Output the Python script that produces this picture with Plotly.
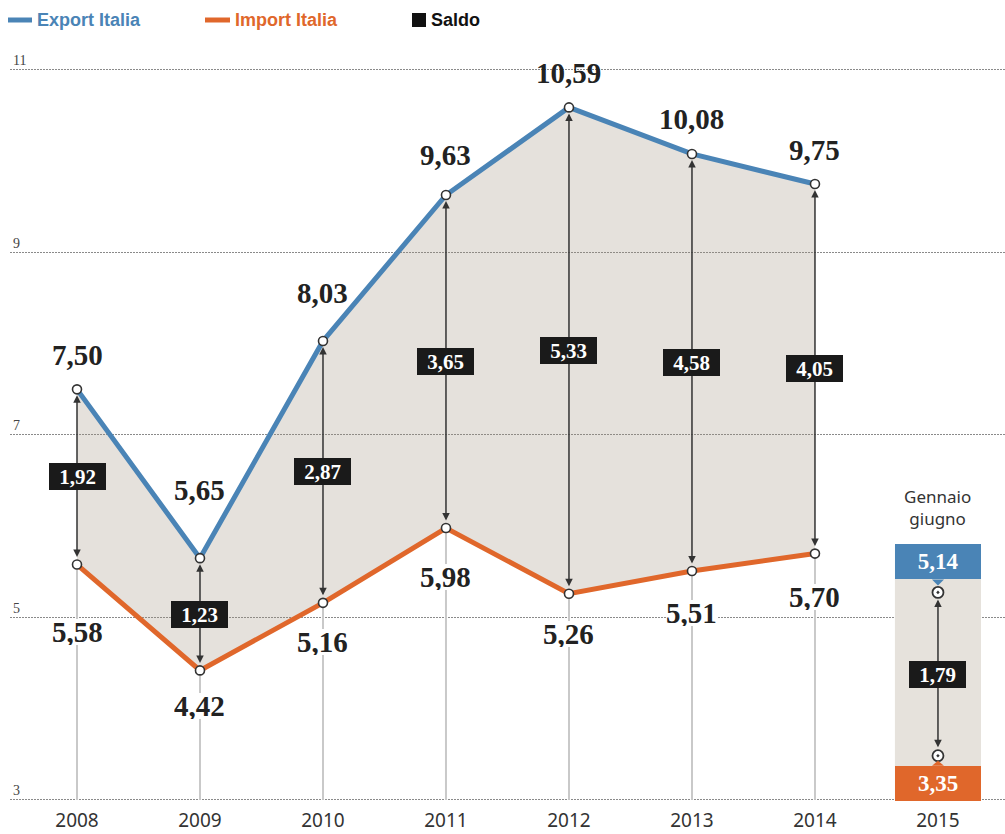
import plotly.graph_objects as go

# ---------------- data ----------------
years = [2008, 2009, 2010, 2011, 2012, 2013, 2014]
export_it = [7.50, 5.65, 8.03, 9.63, 10.59, 10.08, 9.75]
import_it = [5.58, 4.42, 5.16, 5.98, 5.26, 5.51, 5.70]
saldo = [1.92, 1.23, 2.87, 3.65, 5.33, 4.58, 4.05]

year_2015 = 2015
export_2015 = 5.14
import_2015 = 3.35
saldo_2015 = 1.79
inset_title = "Gennaio<br>giugno"

legend_names = ["Export Italia", "Import Italia", "Saldo"]

tick_years = [2008, 2009, 2010, 2011, 2012, 2013, 2014, 2015]
tick_labels = ["2008", "2009", "2010", "2011", "2012", "2013", "2014", "2015"]
y_ticks = [3, 5, 7, 9, 11]
y_tick_labels = ["3", "5", "7", "9", "11"]

# ---------------- style ----------------
W, H = 1005, 834
ML = 10
BLUE = "#4a84b6"
ORANGE = "#e0672b"
BLACK = "#111111"
FILL = "rgba(160,145,125,0.27)"
INSET_BG = "#e6e2dc"
SERIF = "Liberation Serif, Times New Roman, serif"
SANS = "Noto Sans, Open Sans, sans-serif"
LEG = "Liberation Sans, Arial, sans-serif"

export_shift = [34, 68, 48, 40, 34, 35, 34]      # label offsets (px)
import_shift = [-67, -36, -39, -49, -40, -42, -43]
INSET_SHIFT = 0.135                               # schematic offset of inset points


def fmt(v):
    return f"{v:.2f}".replace(".", ",")


def px(xp):
    return (xp - ML) / (W - ML)


def py(yp):
    return (H - yp) / H


fig = go.Figure()

# area between the two lines
fig.add_trace(go.Scatter(x=years, y=export_it, mode="lines", line=dict(width=0),
                         showlegend=False, hoverinfo="skip"))
fig.add_trace(go.Scatter(x=years, y=import_it, mode="lines", line=dict(width=0),
                         fill="tonexty", fillcolor=FILL, showlegend=False, hoverinfo="skip"))

fig.add_trace(go.Scatter(x=years, y=export_it, mode="lines", name=legend_names[0],
                         line=dict(color=BLUE, width=5), showlegend=False))
fig.add_trace(go.Scatter(x=years, y=import_it, mode="lines", name=legend_names[1],
                         line=dict(color=ORANGE, width=5), showlegend=False))

fig.add_trace(go.Scatter(x=years + years, y=export_it + import_it, mode="markers",
                         marker=dict(color="white", size=9, line=dict(color="#333333", width=1.6)),
                         showlegend=False, hoverinfo="skip"))

inset_exp_y = export_2015 + INSET_SHIFT
inset_imp_y = import_2015 + INSET_SHIFT

shapes = []
# light vertical guide lines below import points
for yr, imp in zip(years, import_it):
    shapes.append(dict(type="line", xref="x", yref="y", x0=yr, x1=yr, y0=y_ticks[0], y1=imp,
                       line=dict(color="#c9c9c9", width=2), layer="between"))

# inset background
shapes.append(dict(type="rect", xref="x", yref="y", x0=year_2015 - 0.35, x1=year_2015 + 0.35,
                   ysizemode="pixel", yanchor=y_ticks[0], y0=0, y1=255,
                   fillcolor=INSET_BG, line=dict(width=0), layer="between"))
# pointers of inset boxes
shapes.append(dict(type="path", xref="x", yref="y", xsizemode="pixel", ysizemode="pixel",
                   xanchor=year_2015, yanchor=inset_exp_y,
                   path="M -6 13 L 6 13 L 0 7 Z", fillcolor=BLUE, line=dict(width=0)))
shapes.append(dict(type="path", xref="x", yref="y", xsizemode="pixel", ysizemode="pixel",
                   xanchor=year_2015, yanchor=inset_imp_y,
                   path="M -6 -10 L 6 -10 L 0 -5 Z", fillcolor=ORANGE, line=dict(width=0)))

# legend symbols
shapes.append(dict(type="line", xref="paper", yref="paper", x0=px(8), x1=px(32), y0=py(20), y1=py(20),
                   line=dict(color=BLUE, width=5)))
shapes.append(dict(type="line", xref="paper", yref="paper", x0=px(205), x1=px(230), y0=py(20), y1=py(20),
                   line=dict(color=ORANGE, width=5)))
shapes.append(dict(type="rect", xref="paper", yref="paper", x0=px(412), x1=px(426), y0=py(27), y1=py(13),
                   fillcolor=BLACK, line=dict(width=0)))

fig.add_trace(go.Scatter(x=[year_2015, year_2015], y=[inset_exp_y, inset_imp_y], mode="markers",
                         marker=dict(symbol="circle-dot", color="white", size=11,
                                     line=dict(color="#333333", width=1.8)),
                         showlegend=False, hoverinfo="skip"))

annotations = []
# legend texts
for name, color, xp in zip(legend_names, [BLUE, ORANGE, BLACK], [35, 233, 429]):
    annotations.append(dict(xref="paper", yref="paper", x=px(xp), y=py(20), xanchor="left",
                            yanchor="middle", text=f"<b>{name}</b>", showarrow=False,
                            font=dict(family=LEG, size=18, color=color)))

# double arrows
for yr, e, i in zip(years, export_it, import_it):
    annotations.append(dict(x=yr, y=e, ax=yr, ay=i, xref="x", yref="y", axref="x", ayref="y",
                            text="", showarrow=True, arrowside="end+start",
                            arrowhead=2, startarrowhead=2, arrowsize=1, startarrowsize=1,
                            arrowwidth=1.5, arrowcolor="#333333", standoff=6, startstandoff=6))
annotations.append(dict(x=year_2015, y=inset_exp_y, ax=year_2015, ay=inset_imp_y, xref="x", yref="y",
                        axref="x", ayref="y", text="", showarrow=True, arrowside="end+start",
                        arrowhead=2, startarrowhead=2, arrowsize=1, startarrowsize=1,
                        arrowwidth=1.5, arrowcolor="#333333", standoff=7, startstandoff=7))

# saldo boxes
for yr, e, i, s in zip(years, export_it, import_it, saldo):
    annotations.append(dict(x=yr, y=(e + i) / 2, text=f"<b>{fmt(s)}</b>", showarrow=False,
                            bgcolor="#1a1a1a", width=57, height=27, borderpad=0, borderwidth=0,
                            font=dict(family=SERIF, size=21, color="white")))
annotations.append(dict(x=year_2015, y=(inset_exp_y + inset_imp_y) / 2, text=f"<b>{fmt(saldo_2015)}</b>",
                        showarrow=False, bgcolor="#1a1a1a", width=57, height=27, borderpad=0,
                        borderwidth=0, font=dict(family=SERIF, size=21, color="white")))

# value labels
for yr, e, sh in zip(years, export_it, export_shift):
    annotations.append(dict(x=yr, y=e, yshift=sh, text=f"<b>{fmt(e)}</b>", showarrow=False,
                            font=dict(family=SERIF, size=29, color="#222222")))
for yr, i, sh in zip(years, import_it, import_shift):
    annotations.append(dict(x=yr, y=i, yshift=sh, text=f"<b>{fmt(i)}</b>", showarrow=False,
                            bgcolor="white", height=26, borderpad=0, borderwidth=0,
                            font=dict(family=SERIF, size=29, color="#222222")))

# inset value boxes and title
annotations.append(dict(x=year_2015, y=inset_exp_y, yshift=30.5, text=f"<b>{fmt(export_2015)}</b>",
                        showarrow=False, bgcolor=BLUE, width=86, height=35, borderpad=0, borderwidth=0,
                        font=dict(family=SERIF, size=23, color="white")))
annotations.append(dict(x=year_2015, y=inset_imp_y, yshift=-27.5, text=f"<b>{fmt(import_2015)}</b>",
                        showarrow=False, bgcolor=ORANGE, width=86, height=35, borderpad=0, borderwidth=0,
                        font=dict(family=SERIF, size=23, color="white")))
annotations.append(dict(x=year_2015, y=inset_exp_y, yshift=85, text=inset_title, showarrow=False,
                        font=dict(family=SANS, size=17, color="#333333")))

fig.update_layout(
    width=W, height=H,
    margin=dict(l=ML, r=0, t=0, b=0),
    paper_bgcolor="white", plot_bgcolor="white",
    showlegend=False,
    xaxis=dict(range=[2007.4553, 2015.545], tickvals=tick_years, ticktext=tick_labels,
               ticklabelposition="inside", ticks="", showgrid=False, zeroline=False, showline=False,
               tickfont=dict(family=SANS, size=19, color="#333333"), fixedrange=True),
    yaxis=dict(range=[2.627, 11.767], tickvals=y_ticks, ticktext=y_tick_labels,
               ticklabelposition="inside top", ticks="", showgrid=True, griddash="2px,1px",
               gridcolor="#8a8a8a", gridwidth=1, zeroline=False, showline=False,
               tickfont=dict(family=SERIF, size=14, color="#444444"), fixedrange=True),
    shapes=shapes,
    annotations=annotations,
    hovermode=False,
)

fig.write_html("out.html")
